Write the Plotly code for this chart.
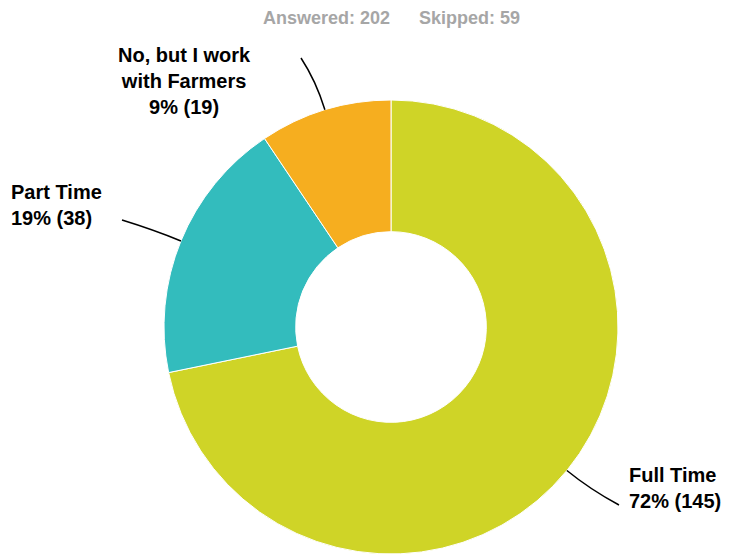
import math
import plotly.graph_objects as go

labels = ["Full Time", "Part Time", "No, but I work<br>with Farmers"]
counts = [145, 38, 19]
colors = ["#CFD427", "#33BCBD", "#F6AE1F"]
answered = 202
skipped = 59

W, H = 730, 554
OFF = 8  # page body margin offset
CX, CY, R = 391, 327, 227

def px(x):
    return (x - OFF) / W

def py(y):
    return 1 - (y - OFF) / H

fig = go.Figure(go.Pie(
    labels=labels, values=counts, sort=False, direction="clockwise", rotation=0,
    hole=0.42, marker=dict(colors=colors, line=dict(color="white", width=1)),
    textinfo="none", hoverinfo="label+value+percent",
    domain=dict(x=[px(CX - R), px(CX + R)], y=[py(CY + R), py(CY - R)]),
    showlegend=False,
))

total = sum(counts)
label_layout = [
    dict(x=627, y=488, xanchor="left", align="left", end=(619, 505)),
    dict(x=9, y=205, xanchor="left", align="left", end=(122, 220)),
    dict(x=184, y=81, xanchor="center", align="center", end=(301, 58)),
]

font_lbl = dict(family="Liberation Sans, Arial, sans-serif", size=20, color="#000000")
cum = 0
for lab, c, lay in zip(labels, counts, label_layout):
    mid = (cum + c / 2) / total * 2 * math.pi
    cum += c
    sx = CX + R * math.sin(mid)
    sy = CY - R * math.cos(mid)
    kx = CX + (R + 30) * math.sin(mid)
    ky = CY - (R + 30) * math.cos(mid)
    ex, ey = lay["end"]
    path = f"M {px(sx)},{py(sy)} Q {px(kx)},{py(ky)} {px(ex)},{py(ey)}"
    fig.add_shape(type="path", path=path, xref="paper", yref="paper",
                  line=dict(color="#000000", width=1.5))
    pct = round(c / total * 100)
    fig.add_annotation(x=px(lay["x"]), y=py(lay["y"]), xref="paper", yref="paper",
                       text=f"<b>{lab}<br>{pct}% ({c})</b>", showarrow=False,
                       xanchor=lay["xanchor"], yanchor="middle", align=lay["align"],
                       font=font_lbl)

font_hdr = dict(family="Liberation Sans, Arial, sans-serif", size=18, color="#A6A6A6")
fig.add_annotation(x=px(326), y=py(18), xref="paper", yref="paper",
                   text=f"<b>Answered: {answered}</b>", showarrow=False,
                   xanchor="center", yanchor="middle", font=font_hdr)
fig.add_annotation(x=px(470), y=py(18), xref="paper", yref="paper",
                   text=f"<b>Skipped: {skipped}</b>", showarrow=False,
                   xanchor="center", yanchor="middle", font=font_hdr)

fig.update_layout(width=W, height=H, margin=dict(l=0, r=0, t=0, b=0),
                  paper_bgcolor="white", plot_bgcolor="white")
fig.write_html("out.html")
